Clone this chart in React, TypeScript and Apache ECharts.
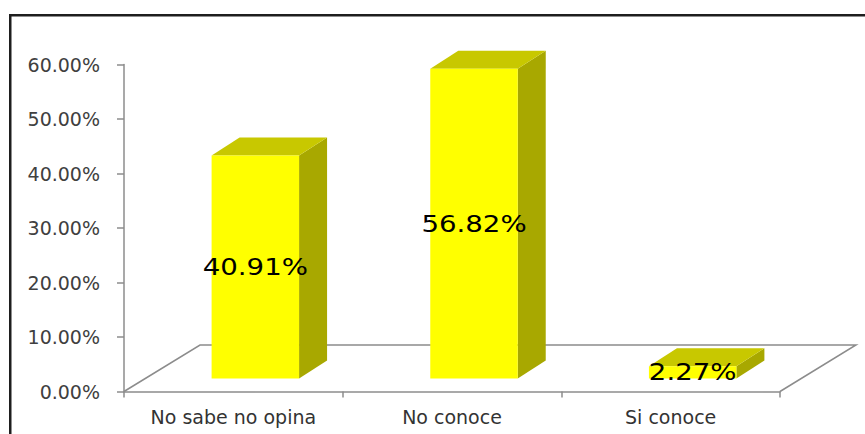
import React, { useEffect, useRef } from "react";
import * as echarts from "echarts";

const categories: string[] = ["No sabe no opina", "No conoce", "Si conoce"];
const percentValues: number[] = [40.91, 56.82, 2.27];
const valueLabels: string[] = ["40.91%", "56.82%", "2.27%"];

const FRONT = "#FFFF00";
const TOP = "#C8C800";
const SIDE = "#A8A800";
const AXIS_GRAY = "#8C8C8C";

// 3D projection parameters (pixels)
const FLOOR_DX = 76;
const FLOOR_DY = -46.5;
const BAR_SHIFT_X = 22;
const BAR_SHIFT_Y = -13;
const BAR_DX = 28;
const BAR_DY = -18;
const BAR_WIDTH_RATIO = 0.4;

export default function App() {
  const ref = useRef<HTMLDivElement>(null);

  useEffect(() => {
    if (!ref.current) return;
    const chart = echarts.init(ref.current, null, { renderer: "svg" });

    const renderItem = (params: any, api: any) => {
      const idx = api.value(0);
      const val = api.value(1);
      const base = api.coord([idx, 0]);
      const top = api.coord([idx, val]);
      const band = api.size([1, 0])[0];
      const w = band * BAR_WIDTH_RATIO;
      const cx = base[0] + BAR_SHIFT_X;
      const x = cx - w / 2;
      const yBot = base[1] + BAR_SHIFT_Y;
      const yTop = top[1] + BAR_SHIFT_Y;
      const children: any[] = [];

      if (params.dataIndex === 0) {
        const cs = params.coordSys;
        const x0 = cs.x;
        const x1 = cs.x + cs.width;
        const yb = cs.y + cs.height;
        children.push({
          type: "polyline",
          shape: {
            points: [
              [x0, yb],
              [x0 + FLOOR_DX, yb + FLOOR_DY],
              [x1 + FLOOR_DX, yb + FLOOR_DY],
              [x1, yb],
            ],
          },
          style: { stroke: AXIS_GRAY, lineWidth: 1.5, fill: null },
        });
      }

      children.push({
        type: "polygon",
        shape: {
          points: [
            [x + w, yTop],
            [x + w + BAR_DX, yTop + BAR_DY],
            [x + w + BAR_DX, yBot + BAR_DY],
            [x + w, yBot],
          ],
        },
        style: { fill: SIDE, stroke: null },
      });
      children.push({
        type: "polygon",
        shape: {
          points: [
            [x, yTop],
            [x + BAR_DX, yTop + BAR_DY],
            [x + w + BAR_DX, yTop + BAR_DY],
            [x + w, yTop],
          ],
        },
        style: { fill: TOP, stroke: null },
      });
      children.push({
        type: "rect",
        shape: { x, y: yTop, width: w, height: yBot - yTop },
        style: { fill: FRONT, stroke: null },
      });
      children.push({
        type: "text",
        x: cx,
        y: (yTop + yBot) / 2,
        scaleX: 1.2,
        style: {
          text: valueLabels[params.dataIndex],
          fill: "#000000",
          font: '23px "DejaVu Sans"',
          align: "center",
          verticalAlign: "middle",
        },
      });
      return { type: "group", children };
    };

    chart.setOption({
      animation: false,
      backgroundColor: "#ffffff",
      graphic: [
        {
          type: "rect",
          left: 7.75,
          top: 12.75,
          shape: { x: 0, y: 0, width: 900, height: 500 },
          style: { fill: null, stroke: "#1E1E1E", lineWidth: 2.5 },
          silent: true,
        },
      ],
      grid: { left: 124, right: 85, top: 64.5, bottom: 42.5 },
      xAxis: {
        type: "category",
        data: categories,
        boundaryGap: true,
        axisLine: { show: true, lineStyle: { color: AXIS_GRAY, width: 1.5 } },
        axisTick: {
          show: true,
          alignWithLabel: false,
          length: 6,
          lineStyle: { color: AXIS_GRAY, width: 1.5 },
        },
        axisLabel: {
          fontFamily: "DejaVu Sans",
          fontSize: 19,
          color: "#333333",
          margin: 16,
        },
        splitLine: { show: false },
      },
      yAxis: {
        type: "value",
        min: 0,
        max: 60,
        interval: 10,
        axisLine: { show: true, lineStyle: { color: AXIS_GRAY, width: 1.5 } },
        axisTick: { show: true, length: 7, lineStyle: { color: AXIS_GRAY, width: 1.5 } },
        axisLabel: {
          fontFamily: "DejaVu Sans",
          fontSize: 19,
          color: "#404040",
          margin: 24,
          formatter: (v: number) => v.toFixed(2) + "%",
        },
        splitLine: { show: false },
      },
      series: [
        {
          type: "custom",
          clip: false,
          renderItem,
          encode: { x: 0, y: 1 },
          data: percentValues.map((v, i) => [i, v]),
        },
      ],
    });

    return () => chart.dispose();
  }, []);

  return (
    <div
      ref={ref}
      style={{ position: "absolute", left: 0, top: 0, width: 865, height: 434 }}
    />
  );
}
